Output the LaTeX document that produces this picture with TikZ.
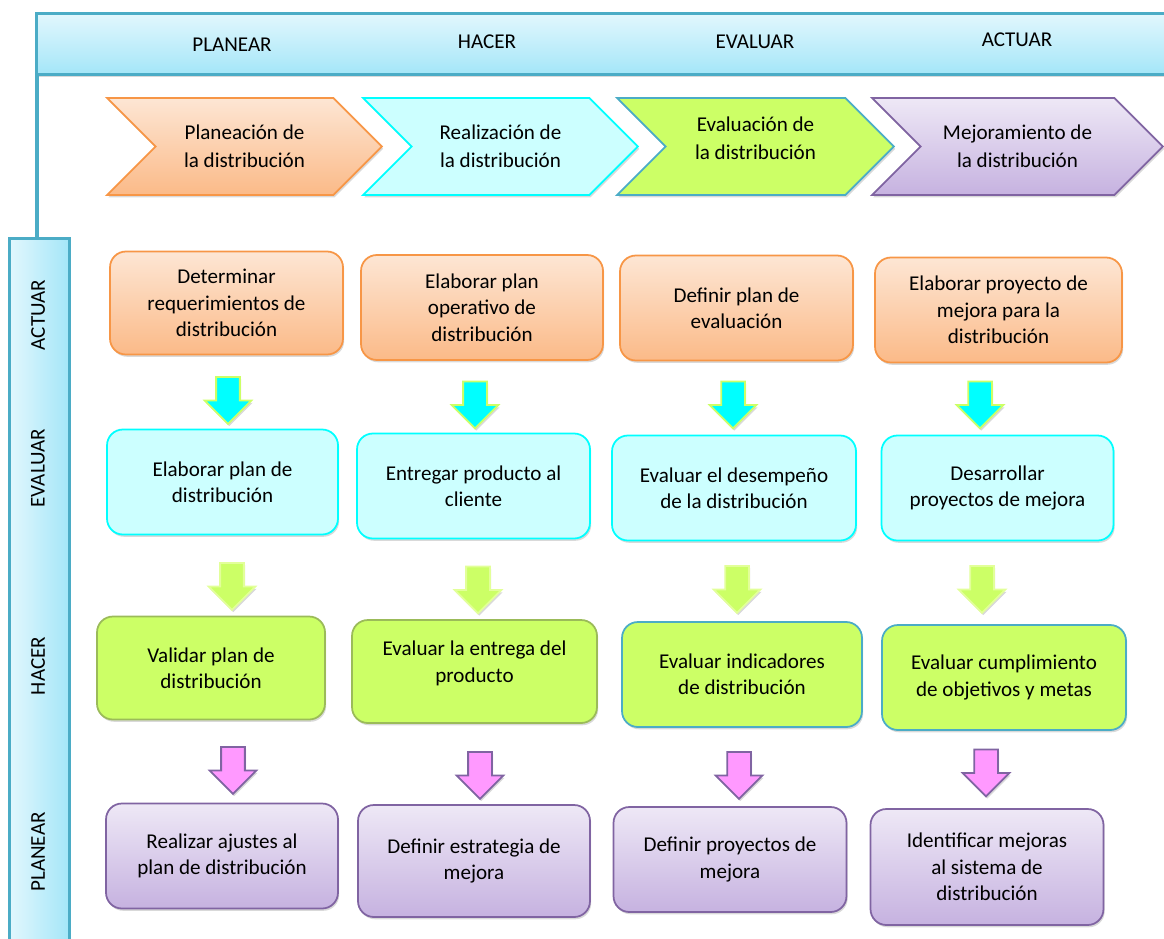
\documentclass[tikz,border=0pt]{standalone}
\usepackage{fontspec}
\setmainfont{Carlito}
\usepackage{xcolor}
\usepackage{tikz}
\usetikzlibrary{shapes.symbols,shapes.arrows,shadows}

\definecolor{barline}{HTML}{4BACC6}
\definecolor{bartop}{HTML}{E2F7FD}
\definecolor{barbot}{HTML}{A4E6F8}
\definecolor{orline}{HTML}{F79646}
\definecolor{ortop}{HTML}{FDE6D4}
\definecolor{orbot}{HTML}{FBBA88}
\definecolor{cyline}{HTML}{00FFFF}
\definecolor{cyfill}{HTML}{CCFFFF}
\definecolor{grfill}{HTML}{CCFF66}
\definecolor{grline}{HTML}{9BBB59}
\definecolor{grlight}{HTML}{E2FF99}
\definecolor{puline}{HTML}{8064A2}
\definecolor{putop}{HTML}{EEE8F6}
\definecolor{pubot}{HTML}{C6B2E0}
\definecolor{pkfill}{HTML}{FF99FF}

\begin{document}
\begin{tikzpicture}[x=0.02cm, y=-0.02cm, font=\fontsize{12}{15}\selectfont]
\useasboundingbox (0,0) rectangle (1164,938);
\tikzstyle{shade} = [drop shadow={opacity=0.3, shadow xshift=0.7pt, shadow yshift=-1.3pt}]
\tikzstyle{box} = [rectangle, rounded corners=9pt, align=center, line width=1pt, inner sep=3pt, shade]
\tikzstyle{obox} = [box, draw=orline, top color=ortop, bottom color=orbot]
\tikzstyle{cbox} = [box, draw=cyline, fill=cyfill]
\tikzstyle{gbox} = [box, draw=grline, fill=grfill]
\tikzstyle{pbox} = [box, draw=puline, top color=putop, bottom color=pubot]
\tikzstyle{chev} = [signal, signal from=west, signal to=east, signal pointer angle=90, minimum height=1.94cm, align=center, line width=1pt, inner sep=0pt, font=\fontsize{12}{16}\selectfont, shade]
\tikzstyle{barrow} = [single arrow, shape border rotate=270, minimum height=0.94cm, minimum width=0.9cm, single arrow head extend=0.23cm, inner xsep=0.22cm, inner ysep=0pt, line width=1pt, shade]
\tikzstyle{lab} = [inner sep=1pt]

% marcos
\node[rectangle, draw=barline, line width=1.5pt, top color=bartop, bottom color=barbot, minimum width=22.8cm, minimum height=1.22cm, anchor=north west, shade] (top) at (35,12) {};
\node[rectangle, draw=barline, line width=1.5pt, left color=bartop, right color=barbot, minimum width=1.2cm, minimum height=14.4cm, anchor=north west] (side) at (8,237) {};
\draw[barline, line width=2pt] (top.south west -| 37,0) -- (side.north west -| 37,0);

\node[lab] (h1) at (232,45) {PLANEAR};
\node[lab] (h2) at (487,42) {HACER};
\node[lab] (h3) at (755,42) {EVALUAR};
\node[lab] (h4) at (1017,40) {ACTUAR};
\node[lab, rotate=90] (v1) at (38,315) {ACTUAR};
\node[lab, rotate=90] (v2) at (38,468) {EVALUAR};
\node[lab, rotate=90] (v3) at (38,666) {HACER};
\node[lab, rotate=90] (v4) at (38,852) {PLANEAR};

% etapas
\node[chev, draw=orline, top color=ortop, bottom color=orbot, minimum width=5.5cm] (e1) at (244.5,146.5) {Planeación de\\la distribución};
\node[chev, draw=cyline, fill=cyfill, minimum width=5.5cm] (e2) at (500.5,146.5) {Realización de\\la distribución};
\node[chev, draw=barline, fill=grfill, minimum width=5.54cm] (e3) at (755.5,146.5) {Evaluación de\\la distribución\\[-7pt]};
\node[chev, draw=puline, top color=putop, bottom color=pubot, minimum width=5.82cm] (e4) at (1017.5,146.5) {Mejoramiento de\\la distribución};

% fila 1
\node[obox, minimum width=4.66cm, minimum height=2.06cm] (a1) at (226.5,303) {Determinar\\requerimientos de\\distribución};
\node[obox, minimum width=4.84cm, minimum height=2.1cm] (a2) at (482,307.5) {Elaborar plan\\operativo de\\distribución};
\node[obox, minimum width=4.66cm, minimum height=2.1cm] (a3) at (736.5,308) {Definir plan de\\evaluación};
\node[obox, minimum width=4.94cm, minimum height=2.1cm] (a4) at (998.5,310) {Elaborar proyecto de\\mejora para la\\distribución};

% fila 2
\node[cbox, minimum width=4.62cm, minimum height=2.1cm] (b1) at (222.5,482) {Elaborar plan de\\distribución};
\node[cbox, minimum width=4.66cm, minimum height=2.1cm] (b2) at (473.5,486) {Entregar producto al\\cliente};
\node[cbox, minimum width=4.88cm, minimum height=2.1cm] (b3) at (734,488) {Evaluar el desempeño\\de la distribución};
\node[cbox, minimum width=4.64cm, minimum height=2.1cm] (b4) at (997.5,488) {Desarrollar\\proyectos de mejora};

% fila 3
\node[gbox, minimum width=4.56cm, minimum height=2.06cm] (c1) at (211,668) {Validar plan de\\distribución};
\node[gbox, minimum width=4.9cm, minimum height=2.06cm] (c2) at (474.5,671.5) {Evaluar la entrega del\\producto\\[-4pt]};
\node[gbox, draw=barline, minimum width=4.8cm, minimum height=2.1cm] (c3) at (742,674.5) {Evaluar indicadores\\de distribución};
\node[gbox, draw=barline, minimum width=4.88cm, minimum height=2.1cm] (c4) at (1004,677.5) {Evaluar cumplimiento\\de objetivos y metas};

% fila 4
\node[pbox, minimum width=4.64cm, minimum height=2.1cm] (d1) at (222,856) {Realizar ajustes al\\plan de distribución};
\node[pbox, minimum width=4.64cm, minimum height=2.24cm] (d2) at (474,861) {Definir estrategia de\\mejora};
\node[pbox, minimum width=4.66cm, minimum height=2.1cm] (d3) at (730,859.5) {Definir proyectos de\\mejora};
\node[pbox, minimum width=4.66cm, minimum height=2.32cm] (d4) at (987,867) {Identificar mejoras\\al sistema de\\distribución};

% flechas
\node[barrow, draw=grfill, fill=cyline] (f1) at (228,394.5) {};
\node[barrow, draw=grfill, fill=cyline] (f2) at (475,399) {};
\node[barrow, draw=grfill, fill=cyline] (f3) at (733,399) {};
\node[barrow, draw=grfill, fill=cyline] (f4) at (980,399) {};
\node[barrow, draw=grlight, fill=grfill] (g1) at (232,580.5) {};
\node[barrow, draw=grlight, fill=grfill] (g2) at (478,584) {};
\node[barrow, draw=grlight, fill=grfill] (g3) at (737,583.5) {};
\node[barrow, draw=grlight, fill=grfill] (g4) at (982,583.5) {};
\node[barrow, draw=puline, fill=pkfill] (k1) at (233,764.5) {};
\node[barrow, draw=puline, fill=pkfill] (k2) at (480,769.5) {};
\node[barrow, draw=puline, fill=pkfill] (k3) at (739,769.5) {};
\node[barrow, draw=puline, fill=pkfill] (k4) at (986,767) {};
\end{tikzpicture}
\end{document}
